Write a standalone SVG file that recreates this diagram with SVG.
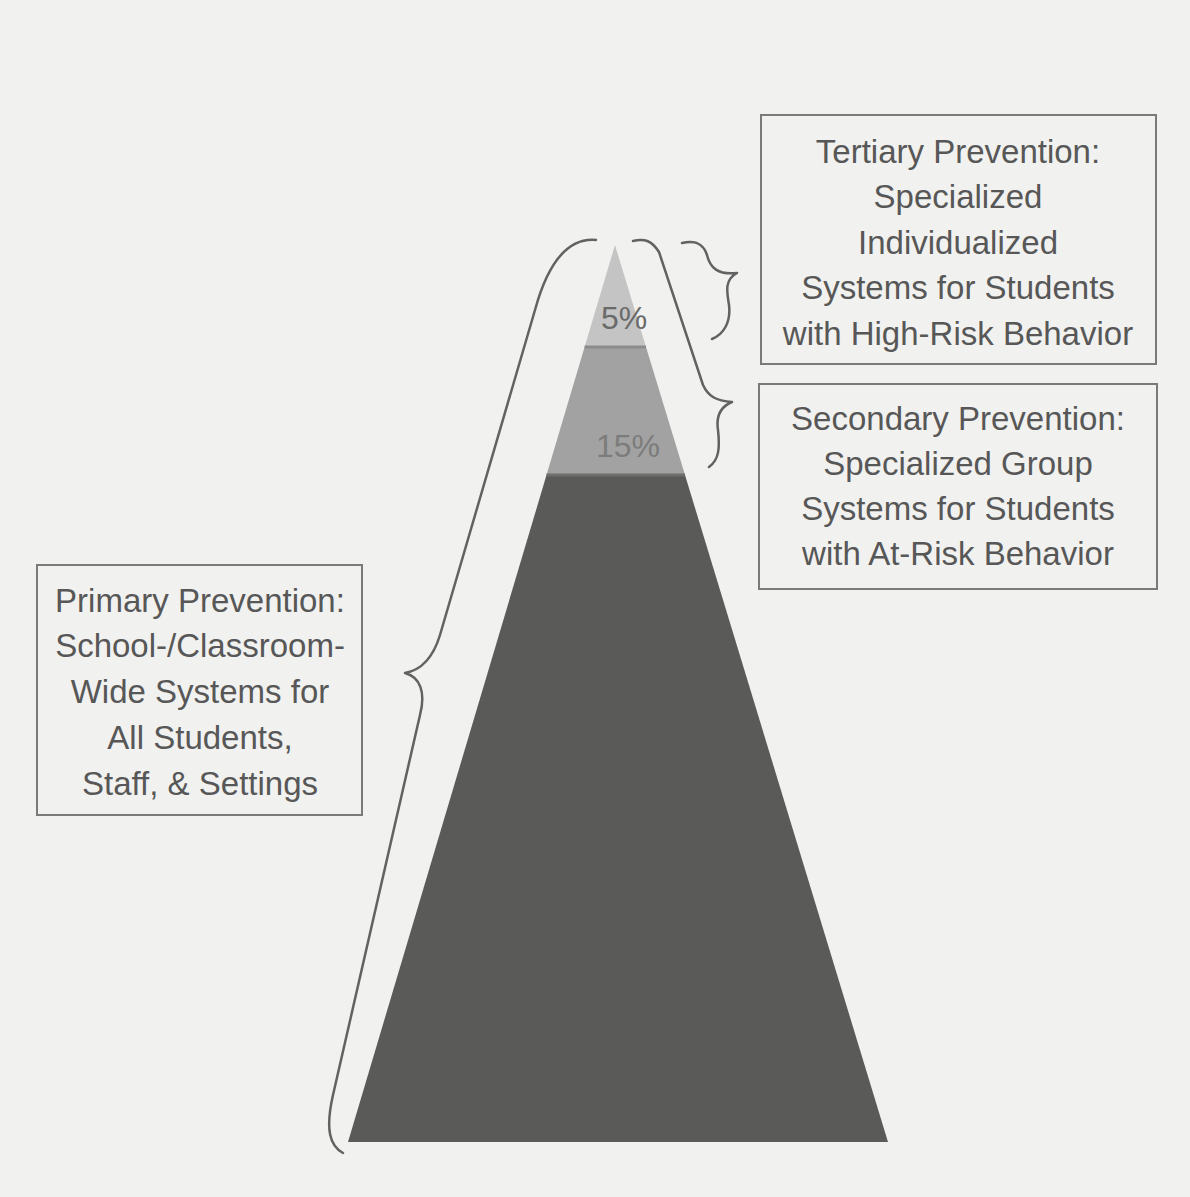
<svg xmlns="http://www.w3.org/2000/svg" width="1190" height="1197" viewBox="0 0 1190 1197">
<style>
.box{fill:none;stroke:#7a7a7a;stroke-width:2}
.lbl{font-family:"Liberation Sans",Arial,sans-serif;font-size:33px;fill:#575757;text-anchor:middle}
.pct{font-family:"Liberation Sans",Arial,sans-serif;font-size:32px;text-anchor:middle}
.brace{fill:none;stroke:#626262;stroke-width:2.5;stroke-linecap:round;stroke-linejoin:round}
</style>
<rect x="0" y="0" width="1190" height="1197" fill="#f1f1ef"/>
<g id="pyramid">
<polygon points="615,245 584.6,347 646,347" fill="#c4c4c4"/>
<polygon points="584.6,347 646,347 685,475 546.5,475" fill="#a2a2a2"/>
<polygon points="546.5,475 685,475 888,1142 348,1142" fill="#5a5b59"/>
<line x1="584.6" y1="347" x2="646" y2="347" stroke="#8c8c8c" stroke-width="3"/>
<line x1="546.5" y1="475" x2="685" y2="475" stroke="#6e6e6e" stroke-width="3"/>
<text class="pct" x="624" y="329" fill="#6a6a6a">5%</text>
<text class="pct" x="628" y="457" fill="#7c7c7c">15%</text>
</g>
<g id="connectors">
<path class="brace" d="M 596,240 C 572,238 550,255 535,310 L 440,635 C 433,658 422,670 405,673 C 420,677 426,692 420,715 L 333,1095 C 325,1130 330,1146 343,1153"/>
<path class="brace" d="M 633,241 C 645,238 652,241 659,252 L 703,385 C 708,396 716,401 732,402 C 720,407 716,417 718,430 C 720,448 719,460 709,467"/>
<path class="brace" d="M 682,243 C 695,240 703,243 707,255 C 710,268 718,275 737,273 C 724,280 727,292 729,305 C 731,322 724,334 712,339"/>
</g>
<g id="tertiary">
<rect class="box" x="761" y="115" width="395" height="249"/>
<text class="lbl" x="958" y="163">Tertiary Prevention:</text>
<text class="lbl" x="958" y="208">Specialized</text>
<text class="lbl" x="958" y="254">Individualized</text>
<text class="lbl" x="958" y="299">Systems for Students</text>
<text class="lbl" x="958" y="345">with High-Risk Behavior</text>
</g>
<g id="secondary">
<rect class="box" x="759" y="384" width="398" height="205"/>
<text class="lbl" x="958" y="430">Secondary Prevention:</text>
<text class="lbl" x="958" y="475">Specialized Group</text>
<text class="lbl" x="958" y="520">Systems for Students</text>
<text class="lbl" x="958" y="565">with At-Risk Behavior</text>
</g>
<g id="primary">
<rect class="box" x="37" y="565" width="325" height="250"/>
<text class="lbl" x="200" y="612">Primary Prevention:</text>
<text class="lbl" x="200" y="657">School-/Classroom-</text>
<text class="lbl" x="200" y="703">Wide Systems for</text>
<text class="lbl" x="200" y="749">All Students,</text>
<text class="lbl" x="200" y="795">Staff, &amp; Settings</text>
</g>
</svg>
